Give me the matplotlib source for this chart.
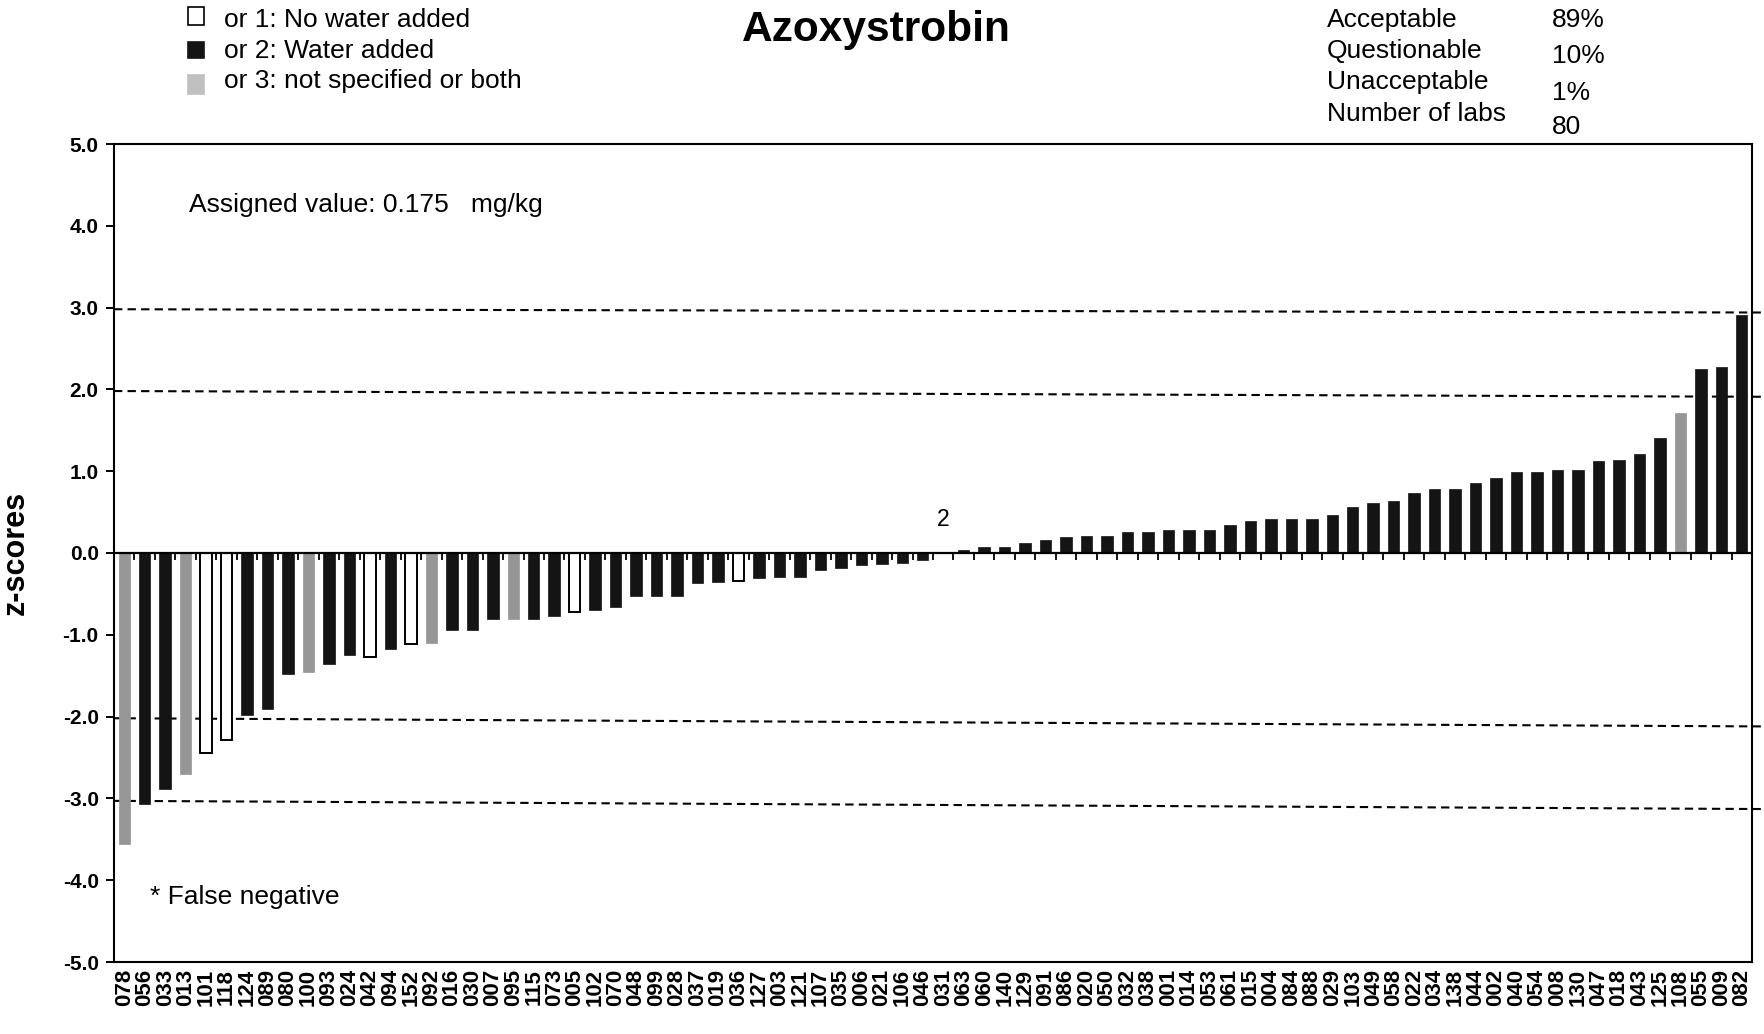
import numpy as np
import matplotlib.pyplot as plt
from matplotlib.patches import Rectangle

# lab codes in plot order
labs = ["078", "056", "033", "013", "101", "118", "124", "089", "080", "100",
        "093", "024", "042", "094", "152", "092", "016", "030", "007", "095",
        "115", "073", "005", "102", "070", "048", "099", "028", "037", "019",
        "036", "127", "003", "121", "107", "035", "006", "021", "106", "046",
        "031", "063", "060", "140", "129", "091", "086", "020", "050", "032",
        "038", "001", "014", "053", "061", "015", "004", "084", "088", "029",
        "103", "049", "058", "022", "034", "138", "044", "002", "040", "054",
        "008", "130", "047", "018", "043", "125", "108", "055", "009", "082"]

z_scores = [-3.56, -3.07, -2.89, -2.70, -2.44, -2.29, -1.98, -1.91, -1.48, -1.46,
            -1.36, -1.25, -1.27, -1.17, -1.11, -1.10, -0.94, -0.94, -0.81, -0.81,
            -0.81, -0.77, -0.72, -0.70, -0.66, -0.52, -0.52, -0.52, -0.37, -0.36,
            -0.34, -0.30, -0.29, -0.29, -0.21, -0.18, -0.15, -0.14, -0.12, -0.08,
            0.00, 0.04, 0.07, 0.07, 0.12, 0.16, 0.19, 0.21, 0.21, 0.26,
            0.26, 0.28, 0.28, 0.28, 0.34, 0.39, 0.41, 0.41, 0.41, 0.46,
            0.56, 0.61, 0.63, 0.73, 0.78, 0.78, 0.85, 0.92, 0.99, 0.99,
            1.02, 1.02, 1.12, 1.14, 1.21, 1.41, 1.71, 2.25, 2.27, 2.91]

# 1 = no water added, 2 = water added, 3 = not specified / both
water = [3, 2, 2, 3, 1, 1, 2, 2, 2, 3,
         2, 2, 1, 2, 1, 3, 2, 2, 2, 3,
         2, 2, 1, 2, 2, 2, 2, 2, 2, 2,
         1, 2, 2, 2, 2, 2, 2, 2, 2, 2,
         2, 2, 2, 2, 2, 2, 2, 2, 2, 2,
         2, 2, 2, 2, 2, 2, 2, 2, 2, 2,
         2, 2, 2, 2, 2, 2, 2, 2, 2, 2,
         2, 2, 2, 2, 2, 2, 3, 2, 2, 2]

legend_labels = ["or 1: No water added", "or 2: Water added", "or 3: not specified or both"]
stat_names = ["Acceptable", "Questionable", "Unacceptable", "Number of labs"]
stat_values = ["89%", "10%", "1%", "80"]
# dashed limit lines (slightly skewed, as in the original): (left, right)
limit_lines = [(2.98, 2.94), (1.98, 1.91), (-2.02, -2.12), (-3.03, -3.13)]

FONT = ["Liberation Sans", "DejaVu Sans"]
plt.rcParams["font.family"] = FONT

W, H = 1764, 1034
fig = plt.figure(figsize=(W / 100, H / 100), dpi=100)


def fx(x):
    return x / W


def fy(y):
    return 1 - y / H


ax = fig.add_axes([fx(114), fy(962), fx(1752) - fx(114), fy(144) - fy(962)])

bar_face = {1: "white", 2: "#141414", 3: "#969696"}
bar_edge = {1: "black", 2: "#141414", 3: "#969696"}
x = np.arange(len(labs))
for xi, v, w in zip(x, z_scores, water):
    ax.bar(xi, v, width=0.56, color=bar_face[w], edgecolor=bar_edge[w],
           linewidth=1.4 if w == 1 else 0.5, zorder=3)

ax.set_xlim(-0.5, len(labs) - 0.5)
ax.set_ylim(-5, 5)
ax.set_yticks(np.arange(-5, 5.1, 1))
ax.set_yticklabels([f"{t:.1f}" for t in np.arange(-5, 5.1, 1)],
                   fontsize=15, fontweight="bold")
ax.tick_params(axis="y", direction="out", length=6, width=1.4, pad=5)
ax.set_xticks(x)
ax.set_xticklabels(labs, rotation=90, fontsize=16, fontweight="bold")
ax.tick_params(axis="x", length=0, pad=5)
for s in ax.spines.values():
    s.set_linewidth(1.5)

# zero line with category boundary ticks
ax.axhline(0, color="black", lw=1.6, zorder=4)
ax.vlines(x[:-1] + 0.5, -0.09, 0, color="black", lw=1.3, zorder=4)

# dashed lines at +-2 and +-3
for y0, y1 in limit_lines:
    ax.plot([-0.5, len(labs) - 0.02], [y0, y1], color="black", lw=1.5,
            linestyle=(0, (4, 2.5)), zorder=2, clip_on=False)

ax.text(40, 0.27, "2", fontsize=16.5, ha="center", va="bottom")

fig.text(fx(189), fy(205), "Assigned value: 0.175   mg/kg", fontsize=19, va="center")
fig.text(fx(150), fy(897), "* False negative", fontsize=19, va="center")
fig.text(fx(16), fy(553), "z-scores", fontsize=22, fontweight="bold",
         rotation=90, ha="center", va="center")

fig.text(fx(876), fy(30), "Azoxystrobin", fontsize=30.5, fontweight="bold",
         ha="center", va="center")

# legend boxes
box_y = [(7, 25), (42, 58), (75, 94)]
box_face = ["white", "#141414", "#c0c0c0"]
box_edge = ["black", "#141414", "#c0c0c0"]
text_y = [20, 51, 81]
for (ya, yb), fc, ec, lab, ty in zip(box_y, box_face, box_edge, legend_labels, text_y):
    fig.patches.append(Rectangle((fx(188), fy(yb)), fx(204) - fx(188), fy(ya) - fy(yb),
                                 transform=fig.transFigure, facecolor=fc,
                                 edgecolor=ec, lw=1.2))
    fig.text(fx(224), fy(ty), lab, fontsize=19, va="center")

# statistics block
name_y = [20, 51, 82, 114]
value_y = [20, 56, 93, 127]
for name, val, ny, vy in zip(stat_names, stat_values, name_y, value_y):
    fig.text(fx(1327), fy(ny), name, fontsize=19, va="center")
    fig.text(fx(1552), fy(vy), val, fontsize=19, va="center")

fig.savefig("out.png", dpi=100)
